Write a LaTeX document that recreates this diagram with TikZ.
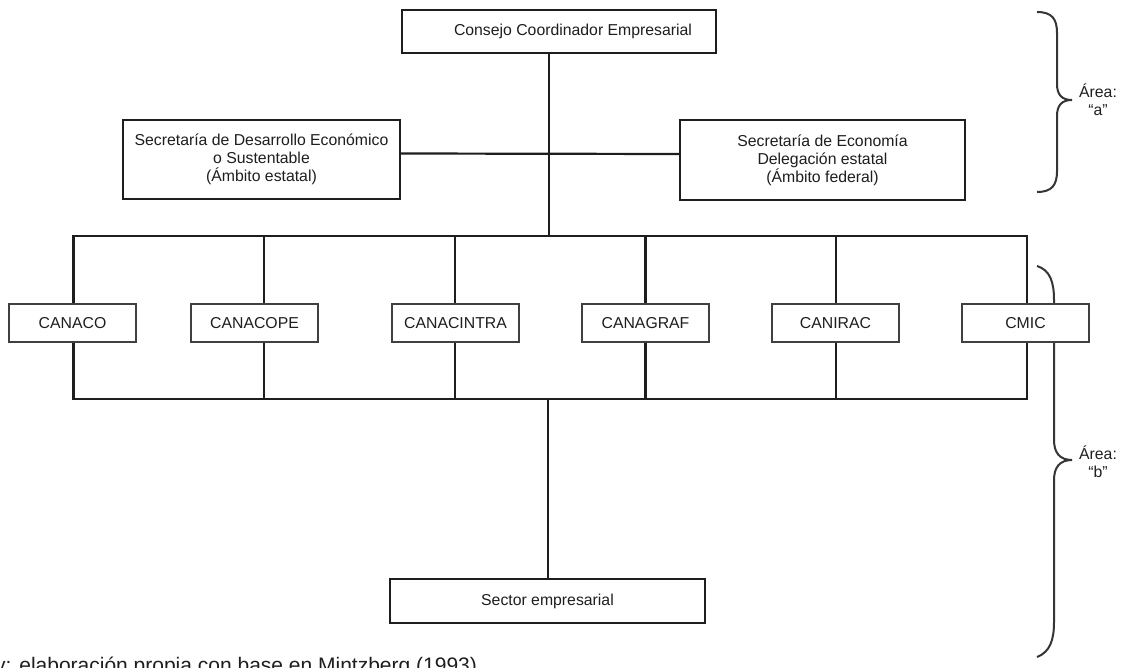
\documentclass[tikz,border=0pt]{standalone}
\usepackage{fontspec}
\setmainfont{Liberation Sans}
\definecolor{ink}{HTML}{1E1E1E}
\begin{document}
\begin{tikzpicture}[x=1pt,y=-1pt,
  ln/.style={line width=2.2pt, draw=ink},
  bigbox/.style={draw=ink, line width=2.2pt, fill=white, inner sep=0pt, align=center, text=ink},
  smallbox/.style={draw=ink!85, line width=1.2pt, fill=white, inner sep=0pt, minimum width=127pt, minimum height=38pt, text=ink},
  bracel/.style={draw=ink!90, line width=2pt},
  lbl/.style={align=center, inner sep=0pt, text=ink, anchor=north},
  font=\fontsize{15.8}{18}\selectfont]
\useasboundingbox (0,0) rectangle (1121,668);

% bus coordinates
\coordinate (bt1) at (73.5,236);  \coordinate (bb1) at (73.5,399);
\coordinate (bt2) at (263.8,236); \coordinate (bb2) at (263.8,399);
\coordinate (bt3) at (454.7,236); \coordinate (bb3) at (454.7,399);
\coordinate (bt4) at (645.5,236); \coordinate (bb4) at (645.5,399);
\coordinate (bt5) at (836,236);   \coordinate (bb5) at (836,399);
\coordinate (bt6) at (1027,236);  \coordinate (bb6) at (1027,399);
\coordinate (btc) at (549,236);   \coordinate (bbc) at (548,399);

% braces
\draw[bracel] (1037,12) .. controls (1052,12) and (1057,19) .. (1057,33)
  -- (1057,84) .. controls (1057,95) and (1062,100) .. (1072,100)
  .. controls (1062,100) and (1057,105) .. (1057,116)
  -- (1057,171) .. controls (1057,185) and (1052,192) .. (1037,192);
\draw[bracel] (1037,266) .. controls (1050,270) and (1054,282) .. (1054,300)
  -- (1054,440) .. controls (1054,453) and (1060,460) .. (1072,460)
  .. controls (1060,460) and (1054,467) .. (1054,480)
  -- (1054,622) .. controls (1054,640) and (1050,652) .. (1037,657);

% top boxes
\node[bigbox, minimum width=314pt, minimum height=43pt] (cce) at (559,31.5) {\hspace*{28pt}Consejo Coordinador Empresarial};
\node[bigbox, minimum width=277pt, minimum height=79pt] (sde) at (261.5,159.5) {Secretaría de Desarrollo Económico\\o Sustentable\\(Ámbito estatal)};
\node[bigbox, minimum width=285pt, minimum height=80pt] (se) at (822.5,160) {Secretaría de Economía\\Delegación estatal\\(Ámbito federal)};

% connectors top
\draw[ln] (cce.south -| btc) -- (btc);
\draw[ln] ([yshift=6pt]sde.east) -- ([yshift=6pt]se.west);

% bus
\draw[ln] (bt1) -- (bt6) -- (bb6) -- (bb1) -- cycle;
\draw[ln] (bt2) -- (bb2);
\draw[ln] (bt3) -- (bb3);
\draw[ln] (bt4) -- (bb4);
\draw[ln] (bt5) -- (bb5);

% chambers
\node[smallbox] (c1) at (72.5,323) {CANACO};
\node[smallbox] (c2) at (254.5,323) {CANACOPE};
\node[smallbox] (c3) at (455.5,323) {CANACINTRA};
\node[smallbox] (c4) at (645.5,323) {CANAGRAF};
\node[smallbox] (c5) at (835.5,323) {CANIRAC};
\node[smallbox] (c6) at (1025.5,323) {CMIC};

% bottom
\node[bigbox, minimum width=315pt, minimum height=44pt] (sec) at (547.5,601) {Sector empresarial};
\draw[ln] (bbc) -- (sec.north -| bbc);

% labels
\node[lbl] (la) at (1098,84) {Área:\\“a”};
\node[lbl] (lb) at (1098,446) {Área:\\“b”};

% caption
\node[anchor=base east, inner sep=0pt, text=ink, font=\fontsize{21}{24}\selectfont] (cap) at (483,672) {y: elaboración propia con base en Mintzberg (1993).};
\end{tikzpicture}
\end{document}
